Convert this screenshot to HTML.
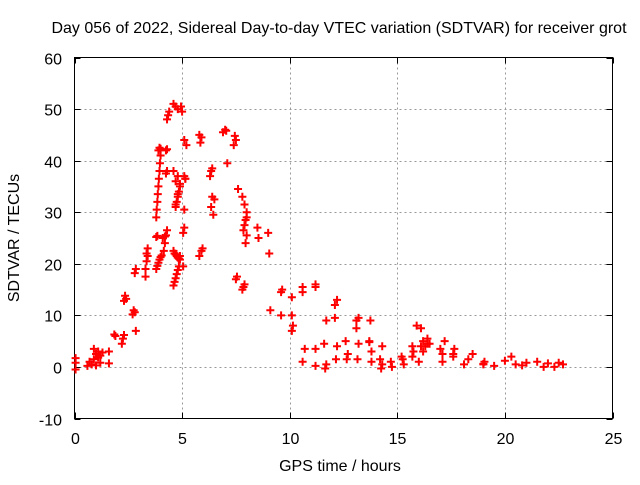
<!DOCTYPE html>
<html><head><meta charset="utf-8"><style>
body{margin:0;background:#fff;}
svg text{font-family:"Liberation Sans",sans-serif;fill:#000;}
</style></head><body>
<svg id="chart" width="640" height="480" viewBox="0 0 640 480" xmlns="http://www.w3.org/2000/svg">
<rect width="640" height="480" fill="#fff"/>
<text x="339" y="33" font-size="16" text-anchor="middle">Day 056 of 2022, Sidereal Day-to-day VTEC variation (SDTVAR) for receiver grot</text>
<g id="grid"></g>
<g id="ticks"></g>
<rect x="74.5" y="57.5" width="538" height="361" fill="none" stroke="#000" stroke-width="1"/>
<g id="points"></g>
<text x="340" y="471" font-size="16" text-anchor="middle">GPS time / hours</text>
<text transform="translate(19,238) rotate(-90)" font-size="16" text-anchor="middle">SDTVAR / TECUs</text>
</svg>
<script>
const xTicks=[0,5,10,15,20,25];
const yTicks=[-10,0,10,20,30,40,50,60];
const hours=[0.05,0.05,0.05,0.6,0.7,0.8,0.9,1.0,1.0,1.1,1.1,1.2,1.2,1.3,0.9,1.6,1.6,1.85,1.9,2.2,2.25,2.3,2.3,2.35,2.4,2.7,2.75,2.8,2.8,2.85,2.85,3.3,3.3,3.35,3.35,3.4,3.4,
3.8,3.85,3.9,3.95,4.0,4.05,4.1,3.8,3.85,4.2,3.8,3.82,3.85,3.87,3.9,3.92,3.95,3.97,4.0,3.9,3.95,4.0,4.15,4.2,4.25,4.3,4.25,4.3,4.3,4.35,4.25,4.3,4.4,
4.6,4.65,4.7,4.75,4.8,4.85,4.9,4.6,4.65,4.7,4.75,4.8,4.85,4.9,4.7,4.75,4.8,4.85,4.9,4.7,4.8,4.6,4.7,4.8,4.9,4.95,4.6,4.7,4.8,
5.0,5.1,5.15,5.05,5.05,5.1,5.1,5.15,5.2,5.1,5.8,5.85,5.9,5.8,5.9,5.95,6.3,6.35,6.4,6.45,6.35,6.5,6.4,6.9,7.0,7.05,7.1,
7.4,7.5,7.45,7.5,7.55,7.6,7.8,7.9,8.0,7.8,7.85,7.9,7.95,8.0,7.85,7.9,7.95,8.0,8.5,8.55,9.0,9.1,9.05,9.6,9.65,9.6,
10.1,10.15,10.1,10.1,10.6,10.7,10.6,10.6,11.2,11.2,11.2,11.2,11.6,11.7,11.65,11.7,12.1,12.2,12.15,12.1,12.2,12.6,12.7,12.65,13.1,13.2,13.15,13.1,13.2,
13.7,13.8,13.7,13.75,13.8,14.2,14.3,14.25,14.3,14.7,14.75,15.2,15.25,15.3,15.7,15.75,15.7,15.9,16.0,16.1,16.2,16.3,16.4,16.5,16.2,16.4,16.1,
17.0,17.1,17.2,17.1,17.6,17.65,17.6,18.1,18.3,18.5,19.0,19.05,19.0,19.5,20.0,20.3,20.5,20.8,21.0,21.5,21.8,22.0,22.3,22.5,22.7];
const sdtvar=[-0.5,0.8,1.7,0.2,1.0,0.5,1.5,2.5,0.3,1.8,3.0,2.2,0.8,2.8,3.5,0.7,3.0,6.3,6.0,4.5,5.5,6.2,12.8,13.8,13.2,10.2,11.0,18.2,10.6,19.0,7.0,17.5,19.0,20.5,22.0,23.0,21.5,
19.0,19.6,20.2,20.8,21.3,21.6,25.0,25.2,25.4,25.3,29.0,30.5,32.0,33.5,35.0,36.5,38.0,39.5,41.0,42.0,42.5,42.3,22.5,24.0,25.5,26.5,37.5,38.0,48.0,48.8,42.0,42.2,49.5,
15.8,16.5,17.2,18.0,18.8,19.5,21.5,22.5,22.0,21.8,21.5,21.2,21.0,20.8,31.0,32.0,33.0,34.0,35.0,36.0,37.0,38.0,31.5,33.5,35.5,50.5,51.0,50.5,50.0,49.5,30.5,36.5,
19.5,26.0,27.0,37.0,36.5,43.0,44.0,45.0,43.5,44.5,21.5,22.5,23.0,37.0,38.0,38.5,29.5,31.0,32.5,33.0,45.5,46.0,45.8,39.5,43.0,44.0,44.8,
17.0,17.5,34.5,33.0,31.5,30.0,15.0,15.5,16.0,24.0,25.5,26.5,27.5,28.5,29.0,27.0,25.0,26.0,11.0,22.0,10.0,15.0,14.5,7.0,8.0,10.0,
13.5,14.5,3.5,1.0,15.5,16.0,3.5,0.2,15.5,4.5,0.5,-0.3,9.0,9.5,4.0,1.5,12.0,13.0,5.0,2.5,1.5,7.5,4.5,1.5,9.0,9.5,5.0,1.0,4.8,
9.0,3.0,1.5,0.5,-0.3,4.0,1.0,0.0,2.0,1.5,0.5,2.0,3.0,4.0,8.0,1.0,7.5,5.0,4.0,5.5,4.5,3.0,4.5,4.0,3.5,2.5,5.0,
1.0,2.5,3.5,2.0,0.5,1.5,2.5,0.5,1.0,0.6,0.2,1.2,2.0,0.5,0.3,0.8,1.0,0.0,0.7,0.0,0.8,0.5,0.3,1.0,0.5];
const NS="http://www.w3.org/2000/svg";
const X0=74.5,W=538,Y0=57.5,H=361;
function sx(v){return X0+v/25*W;}
function sy(v){return Y0+(60-v)/70*H;}
const grid=document.getElementById('grid'),ticks=document.getElementById('ticks'),pts=document.getElementById('points');
function mk(tag,attrs,parent){const e=document.createElementNS(NS,tag);for(const k in attrs)e.setAttribute(k,attrs[k]);parent.appendChild(e);return e;}
xTicks.forEach(t=>{
  const x=Math.round(sx(t))+0.5;
  if(t>0&&t<25){const g=mk('line',{x1:x,x2:x,y1:Y0,y2:Y0+H,stroke:'#999','stroke-dasharray':'2,3'},grid);
  
  }
  mk('line',{x1:x,x2:x,y1:Y0+H,y2:Y0+H-6,stroke:'#000'},ticks);
  mk('line',{x1:x,x2:x,y1:Y0,y2:Y0+6,stroke:'#000'},ticks);
  const l=mk('text',{x:x,y:444,'font-size':16,'text-anchor':'middle'},ticks);l.textContent=t;
  
  
});
yTicks.forEach(t=>{
  const y=Math.round(sy(t))+0.5;
  if(t>-10&&t<60){const g=mk('line',{x1:X0,x2:X0+W,y1:y,y2:y,stroke:'#999','stroke-dasharray':'2,3'},grid);
  
  }
  mk('line',{x1:X0,x2:X0+6,y1:y,y2:y,stroke:'#000'},ticks);
  mk('line',{x1:X0+W,x2:X0+W-6,y1:y,y2:y,stroke:'#000'},ticks);
  const l=mk('text',{x:62,y:y+6,'font-size':16,'text-anchor':'end'},ticks);l.textContent=t;
  
  
});
hours.forEach((h,i)=>{
  const x=sx(h),y=sy(sdtvar[i]);
  const p=mk('path',{d:`M${x-4},${y}H${x+4}M${x},${y-4}V${y+4}`,stroke:'#f00','stroke-width':2,fill:'none'},pts);
  
  
});
</script>
</body></html>
